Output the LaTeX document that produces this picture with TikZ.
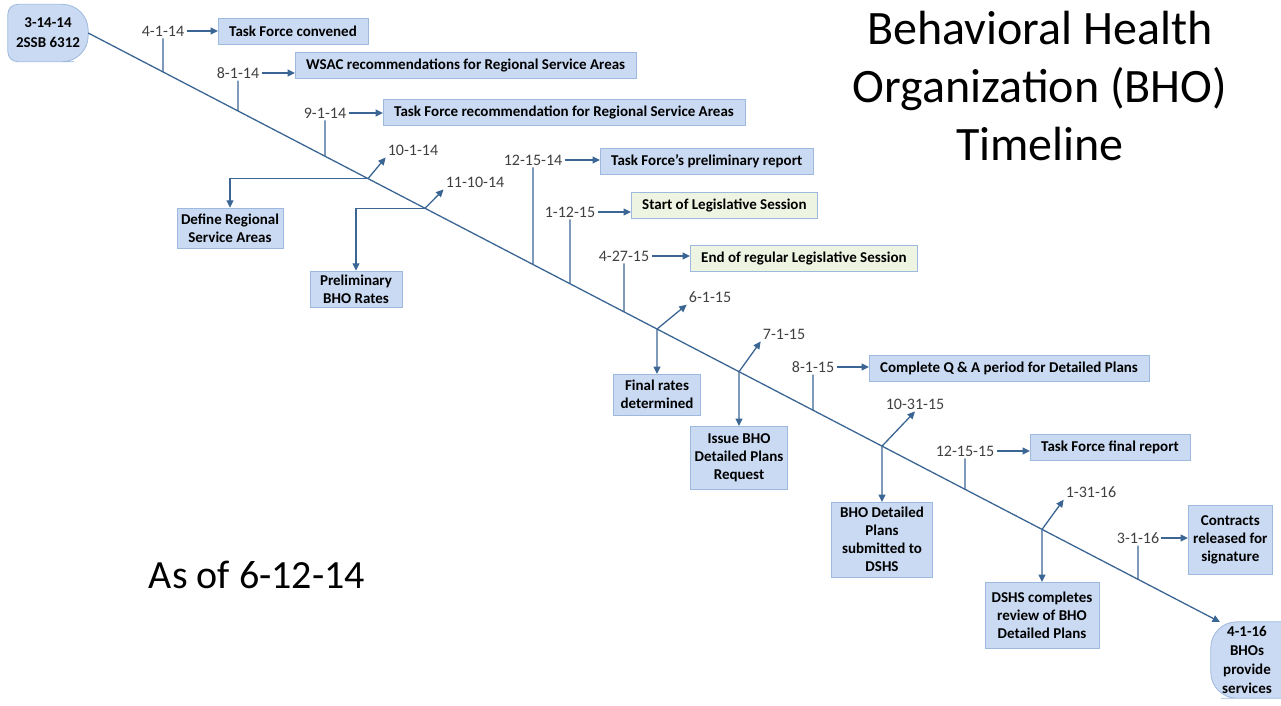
\documentclass[tikz,border=0pt]{standalone}
\usepackage{fontspec}
\setmainfont{Carlito}
\usetikzlibrary{arrows.meta, backgrounds, calc}

\definecolor{lineblue}{HTML}{3B6593}
\definecolor{boxblue}{HTML}{C9DAF2}
\definecolor{boxgreen}{HTML}{EEF4E2}
\definecolor{boxline}{HTML}{9DB9DE}
\definecolor{dategray}{HTML}{404040}

\tikzset{
	event/.style={draw=boxline, fill=boxblue, align=center, inner xsep=11pt, inner ysep=3pt,
		minimum height=26pt, font=\fontsize{15}{18}\selectfont\bfseries},
	date/.style={text=dategray, inner sep=2pt, font=\fontsize{16}{18}\selectfont},
	link/.style={draw=lineblue, line width=1.3pt, -{Triangle[length=7.5pt,width=7pt]}},
	stem/.style={draw=lineblue, line width=1.2pt},
	endcap/.style={draw=boxline, fill=boxblue, line width=0.8pt},
}

\begin{document}
\begin{tikzpicture}[x=1pt, y=-1pt]
\useasboundingbox (0,0) rectangle (1281,705);

	% --- title and date
	\node[align=center, font=\fontsize{48}{58}\selectfont] (title) at (1040,86)
		{Behavioral Health\\Organization (BHO)\\Timeline};
	\node[font=\fontsize{40}{44}\selectfont] (asof) at (257,575) {As of 6-12-14};

	% --- start and end of the timeline
	\node[font=\fontsize{15}{20}\selectfont\bfseries, align=center,
		minimum width=80pt, minimum height=57pt] (start) at (48,33) {3-14-14\\2SSB 6312};
	\node[font=\fontsize{15}{19}\selectfont\bfseries, align=center,
		minimum width=72pt, minimum height=76pt] (finish) at (1247,660)
		{4-1-16\\BHOs\\provide\\services};
	\scoped[on background layer]\path[endcap]
		(start.south) [rounded corners=10pt] -- (start.south west) -- (start.north west)
		-- (start.north) [rounded corners=26pt] -- (start.north east) -- (start.south east) -- cycle;
	\scoped[on background layer]\path[endcap]
		(finish.north) [rounded corners=26pt] -- (finish.north west) -- (finish.south west)
		-- (finish.south) [rounded corners=0pt] -- (finish.south east) -- (finish.north east) -- cycle;

	% draw the main line
	\coordinate (tip) at (1220,622);
	\draw[link] (start.east) -- (tip);

	% --- dates with a stem and a box to the right
	\foreach \n/\dx/\dy/\date/\bx/\by/\col/\txt in {
		a/163/31/4-1-14/218/31/boxblue/Task Force convened,
		b/238/73/8-1-14/295/65/boxblue/WSAC recommendations for Regional Service Areas,
		c/325/113/9-1-14/383/112/boxblue/Task Force recommendation for Regional Service Areas,
		d/533/160/12-15-14/600/161/boxblue/Task Force’s preliminary report,
		e/570/212/1-12-15/631/205/boxgreen/Start of Legislative Session,
		f/624/256/4-27-15/690/258/boxgreen/End of regular Legislative Session,
		g/813/367/8-1-15/869/368/boxblue/Complete Q \& A period for Detailed Plans,
		h/965/451/12-15-15/1030/447/boxblue/Task Force final report}
	{
		\node[date] (d\n) at (\dx,\dy) {\date};
		\node[event, fill=\col, anchor=west] (b\n) at (\bx,\by) {\txt};
		\coordinate (t\n) at (intersection of start.east--tip and d\n.south--d\n.north);
		\draw[stem] (t\n) -- (d\n.south);
		\draw[link, shorten <=1pt] (d\n) -- (d\n -| b\n.west);
	}

	% contracts box is taller
	\node[date] (dk) at (1138,538) {3-1-16};
	\node[event, anchor=west, inner xsep=5pt, minimum width=80pt, minimum height=69pt]
		(bk) at (1188,540) {Contracts\\released for\\signature};
	\coordinate (tk) at (intersection of start.east--tip and dk.south--dk.north);
	\draw[stem] (tk) -- (dk.south);
	\draw[link] (dk) -- (dk -| bk.west);

	% --- dates with a box below the line
	\foreach \n/\bx/\by/\w/\h/\lx/\ly/\at/\date/\txt in {
		m/657/374/87/41/710/297/south west/6-1-15/Final rates\\determined,
		p/739/426/95/63/784/334/south west/7-1-15/Issue BHO\\Detailed Plans\\Request,
		q/882/502/101/75/915/404/south/10-31-15/BHO Detailed\\Plans\\submitted to\\DSHS,
		r/1042/582/114/66/1091/492/south west/1-31-16/DSHS completes\\review of BHO\\Detailed Plans}
	{
		\node[event, anchor=north, minimum width=\w pt, minimum height=\h pt,
			inner xsep=4pt] (b\n) at (\bx,\by) {\txt};
		\coordinate (p\n) at (intersection of start.east--tip and b\n.north--b\n.south);
		\node[date] (d\n) at (\lx,\ly) {\date};
		\draw[link] (p\n) -- (b\n.north);
		\draw[link] (p\n) -- (d\n.\at);
	}

	% --- dates with a box off to the left
	\foreach \n/\px/\bx/\by/\w/\h/\lx/\ly/\date/\txt in {
		u/368/230/228/104/40/413/150/10-1-14/Define Regional\\Service Areas,
		v/425/356/289/92/36/475/182/11-10-14/Preliminary\\BHO Rates}
	{
		\node[event, minimum width=\w pt, minimum height=\h pt,
			inner xsep=4pt] (b\n) at (\bx,\by) {\txt};
		\coordinate (p\n) at (intersection of start.east--tip and \px,0--\px,10);
		\node[date] (d\n) at (\lx,\ly) {\date};
		\draw[link] (p\n) -| (b\n.north);
		\draw[link] (p\n) -- (d\n.south west);
	}

\end{tikzpicture}
\end{document}
